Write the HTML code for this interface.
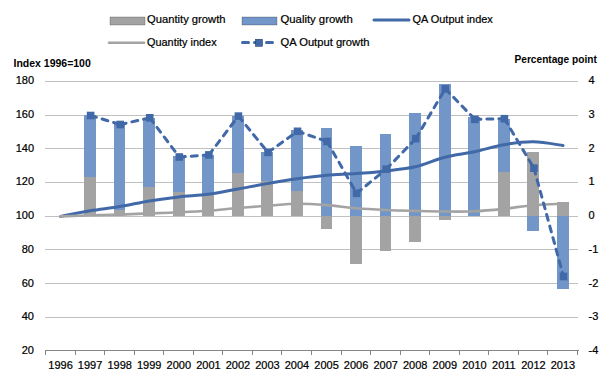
<!DOCTYPE html>
<html><head><meta charset="utf-8"><style>html,body{margin:0;padding:0;background:#fff;width:612px;height:380px;overflow:hidden}svg{display:block}</style></head>
<body><svg width="612" height="380" viewBox="0 0 612 380">
<rect width="612" height="380" fill="#fff"/>
<rect x="45" y="81" width="533" height="1" fill="#C0C0C0"/>
<rect x="45" y="115" width="533" height="1" fill="#C0C0C0"/>
<rect x="45" y="148" width="533" height="1" fill="#C0C0C0"/>
<rect x="45" y="182" width="533" height="1" fill="#C0C0C0"/>
<rect x="45" y="216" width="533" height="1" fill="#C0C0C0"/>
<rect x="45" y="249" width="533" height="1" fill="#C0C0C0"/>
<rect x="45" y="283" width="533" height="1" fill="#C0C0C0"/>
<rect x="45" y="317" width="533" height="1" fill="#C0C0C0"/>
<rect x="45" y="350" width="534" height="1" fill="#868686"/>
<rect x="45" y="350" width="1" height="5" fill="#868686"/>
<rect x="75" y="350" width="1" height="5" fill="#868686"/>
<rect x="104" y="350" width="1" height="5" fill="#868686"/>
<rect x="134" y="350" width="1" height="5" fill="#868686"/>
<rect x="163" y="350" width="1" height="5" fill="#868686"/>
<rect x="193" y="350" width="1" height="5" fill="#868686"/>
<rect x="222" y="350" width="1" height="5" fill="#868686"/>
<rect x="252" y="350" width="1" height="5" fill="#868686"/>
<rect x="281" y="350" width="1" height="5" fill="#868686"/>
<rect x="311" y="350" width="1" height="5" fill="#868686"/>
<rect x="341" y="350" width="1" height="5" fill="#868686"/>
<rect x="370" y="350" width="1" height="5" fill="#868686"/>
<rect x="400" y="350" width="1" height="5" fill="#868686"/>
<rect x="429" y="350" width="1" height="5" fill="#868686"/>
<rect x="459" y="350" width="1" height="5" fill="#868686"/>
<rect x="488" y="350" width="1" height="5" fill="#868686"/>
<rect x="518" y="350" width="1" height="5" fill="#868686"/>
<rect x="547" y="350" width="1" height="5" fill="#868686"/>
<rect x="577" y="350" width="1" height="5" fill="#868686"/>
<rect x="84" y="177" width="12" height="39" fill="#A3A3A3"/>
<rect x="84" y="115" width="12" height="62" fill="#7196C7"/>
<rect x="114" y="210" width="11" height="6" fill="#A3A3A3"/>
<rect x="114" y="124" width="11" height="86" fill="#7196C7"/>
<rect x="143" y="187" width="12" height="29" fill="#A3A3A3"/>
<rect x="143" y="118" width="12" height="69" fill="#7196C7"/>
<rect x="173" y="192" width="12" height="24" fill="#A3A3A3"/>
<rect x="173" y="156" width="12" height="36" fill="#7196C7"/>
<rect x="202" y="194" width="12" height="22" fill="#A3A3A3"/>
<rect x="202" y="155" width="12" height="39" fill="#7196C7"/>
<rect x="232" y="173" width="12" height="43" fill="#A3A3A3"/>
<rect x="232" y="116" width="12" height="57" fill="#7196C7"/>
<rect x="261" y="181" width="12" height="35" fill="#A3A3A3"/>
<rect x="261" y="152" width="12" height="29" fill="#7196C7"/>
<rect x="291" y="191" width="12" height="25" fill="#A3A3A3"/>
<rect x="291" y="130" width="12" height="61" fill="#7196C7"/>
<rect x="321" y="216" width="11" height="13" fill="#A3A3A3"/>
<rect x="321" y="128" width="11" height="88" fill="#7196C7"/>
<rect x="350" y="216" width="12" height="48" fill="#A3A3A3"/>
<rect x="350" y="146" width="12" height="70" fill="#7196C7"/>
<rect x="380" y="216" width="11" height="35" fill="#A3A3A3"/>
<rect x="380" y="134" width="11" height="82" fill="#7196C7"/>
<rect x="409" y="216" width="12" height="26" fill="#A3A3A3"/>
<rect x="409" y="113" width="12" height="103" fill="#7196C7"/>
<rect x="439" y="216" width="12" height="4" fill="#A3A3A3"/>
<rect x="439" y="84" width="12" height="132" fill="#7196C7"/>
<rect x="468" y="117" width="12" height="99" fill="#7196C7"/>
<rect x="498" y="172" width="12" height="44" fill="#A3A3A3"/>
<rect x="498" y="119" width="12" height="53" fill="#7196C7"/>
<rect x="527" y="152" width="12" height="64" fill="#A3A3A3"/>
<rect x="527" y="216" width="12" height="15" fill="#7196C7"/>
<rect x="557" y="202" width="12" height="14" fill="#A3A3A3"/>
<rect x="557" y="216" width="12" height="73" fill="#7196C7"/>
<path d="M60.58,216.40 C65.50,215.45 80.28,212.33 90.13,210.70 C99.99,209.07 109.84,208.23 119.69,206.60 C129.54,204.97 139.39,202.52 149.24,200.90 C159.10,199.28 168.95,198.00 178.80,196.90 C188.65,195.80 198.50,195.62 208.36,194.30 C218.21,192.98 228.06,190.78 237.91,189.00 C247.76,187.22 257.61,185.30 267.47,183.60 C277.32,181.90 287.17,180.18 297.02,178.80 C306.87,177.42 316.73,176.17 326.58,175.30 C336.43,174.43 346.28,174.33 356.13,173.60 C365.99,172.87 375.84,172.03 385.69,170.90 C395.54,169.77 405.39,169.08 415.24,166.80 C425.10,164.52 434.95,159.70 444.80,157.20 C454.65,154.70 464.50,153.88 474.36,151.80 C484.21,149.72 494.06,146.37 503.91,144.70 C513.76,143.03 523.61,141.67 533.47,141.80 C543.32,141.93 558.10,144.88 563.02,145.50" fill="none" stroke="#4169A8" stroke-width="3" stroke-linecap="round" stroke-linejoin="round"/>
<path d="M60.58,216.40 C65.50,216.22 80.28,215.60 90.13,215.30 C99.99,215.00 109.84,214.92 119.69,214.60 C129.54,214.28 139.39,213.78 149.24,213.40 C159.10,213.02 168.95,212.75 178.80,212.30 C188.65,211.85 198.50,211.42 208.36,210.70 C218.21,209.98 228.06,208.82 237.91,208.00 C247.76,207.18 257.61,206.52 267.47,205.80 C277.32,205.08 287.17,203.82 297.02,203.70 C306.87,203.58 316.73,204.33 326.58,205.10 C336.43,205.87 346.28,207.48 356.13,208.30 C365.99,209.12 375.84,209.57 385.69,210.00 C395.54,210.43 405.39,210.65 415.24,210.90 C425.10,211.15 434.95,211.43 444.80,211.50 C454.65,211.57 464.50,211.75 474.36,211.30 C484.21,210.85 494.06,209.82 503.91,208.80 C513.76,207.78 523.61,206.03 533.47,205.20 C543.32,204.37 558.10,204.03 563.02,203.80" fill="none" stroke="#A3A3A3" stroke-width="2.6" stroke-linecap="round" stroke-linejoin="round"/>
<path d="M90.63,115.50 L120.19,124.50" fill="none" stroke="#4169A8" stroke-width="3" stroke-dasharray="6 6" stroke-linecap="round"/>
<path d="M120.19,124.50 L149.74,117.80" fill="none" stroke="#4169A8" stroke-width="3" stroke-dasharray="6 6" stroke-linecap="round"/>
<path d="M149.74,117.80 L179.30,157.00" fill="none" stroke="#4169A8" stroke-width="3" stroke-dasharray="6 6" stroke-linecap="round"/>
<path d="M179.30,157.00 L208.86,154.90" fill="none" stroke="#4169A8" stroke-width="3" stroke-dasharray="6 6" stroke-linecap="round"/>
<path d="M208.86,154.90 L238.41,116.10" fill="none" stroke="#4169A8" stroke-width="3" stroke-dasharray="6 6" stroke-linecap="round"/>
<path d="M238.41,116.10 L267.97,152.40" fill="none" stroke="#4169A8" stroke-width="3" stroke-dasharray="6 6" stroke-linecap="round"/>
<path d="M267.97,152.40 L297.52,131.30" fill="none" stroke="#4169A8" stroke-width="3" stroke-dasharray="6 6" stroke-linecap="round"/>
<path d="M297.52,131.30 L327.08,141.50" fill="none" stroke="#4169A8" stroke-width="3" stroke-dasharray="6 6" stroke-linecap="round"/>
<path d="M327.08,141.50 L356.63,193.30" fill="none" stroke="#4169A8" stroke-width="3" stroke-dasharray="6 6" stroke-linecap="round"/>
<path d="M356.63,193.30 L386.19,169.20" fill="none" stroke="#4169A8" stroke-width="3" stroke-dasharray="6 6" stroke-linecap="round"/>
<path d="M386.19,169.20 L415.74,138.70" fill="none" stroke="#4169A8" stroke-width="3" stroke-dasharray="6 6" stroke-linecap="round"/>
<path d="M415.74,138.70 L445.30,88.80" fill="none" stroke="#4169A8" stroke-width="3" stroke-dasharray="6 6" stroke-linecap="round"/>
<path d="M445.30,88.80 L474.86,119.30" fill="none" stroke="#4169A8" stroke-width="3" stroke-dasharray="6 6" stroke-linecap="round"/>
<path d="M474.86,119.30 L504.41,118.70" fill="none" stroke="#4169A8" stroke-width="3" stroke-dasharray="6 6" stroke-linecap="round"/>
<path d="M504.41,118.70 L533.97,168.20" fill="none" stroke="#4169A8" stroke-width="3" stroke-dasharray="6 6" stroke-linecap="round"/>
<path d="M533.97,168.20 L563.52,276.50" fill="none" stroke="#4169A8" stroke-width="3" stroke-dasharray="6 6" stroke-linecap="round"/>
<rect x="86.83" y="111.70" width="7.6" height="7.6" fill="#4169A8"/>
<rect x="116.39" y="120.70" width="7.6" height="7.6" fill="#4169A8"/>
<rect x="145.94" y="114.00" width="7.6" height="7.6" fill="#4169A8"/>
<rect x="175.50" y="153.20" width="7.6" height="7.6" fill="#4169A8"/>
<rect x="205.06" y="151.10" width="7.6" height="7.6" fill="#4169A8"/>
<rect x="234.61" y="112.30" width="7.6" height="7.6" fill="#4169A8"/>
<rect x="264.17" y="148.60" width="7.6" height="7.6" fill="#4169A8"/>
<rect x="293.72" y="127.50" width="7.6" height="7.6" fill="#4169A8"/>
<rect x="323.28" y="137.70" width="7.6" height="7.6" fill="#4169A8"/>
<rect x="352.83" y="189.50" width="7.6" height="7.6" fill="#4169A8"/>
<rect x="382.39" y="165.40" width="7.6" height="7.6" fill="#4169A8"/>
<rect x="411.94" y="134.90" width="7.6" height="7.6" fill="#4169A8"/>
<rect x="441.50" y="85.00" width="7.6" height="7.6" fill="#4169A8"/>
<rect x="471.06" y="115.50" width="7.6" height="7.6" fill="#4169A8"/>
<rect x="500.61" y="114.90" width="7.6" height="7.6" fill="#4169A8"/>
<rect x="530.17" y="164.40" width="7.6" height="7.6" fill="#4169A8"/>
<rect x="559.72" y="272.70" width="7.6" height="7.6" fill="#4169A8"/>
<g font-family="'Liberation Sans', sans-serif" stroke="#000" stroke-width="0.22">
<text x="34" y="84.0" font-size="11" text-anchor="end" font-weight="normal" fill="#000000">180</text>
<text x="34" y="117.75" font-size="11" text-anchor="end" font-weight="normal" fill="#000000">160</text>
<text x="34" y="151.5" font-size="11" text-anchor="end" font-weight="normal" fill="#000000">140</text>
<text x="34" y="185.25" font-size="11" text-anchor="end" font-weight="normal" fill="#000000">120</text>
<text x="34" y="219.0" font-size="11" text-anchor="end" font-weight="normal" fill="#000000">100</text>
<text x="34" y="252.75" font-size="11" text-anchor="end" font-weight="normal" fill="#000000">80</text>
<text x="34" y="286.5" font-size="11" text-anchor="end" font-weight="normal" fill="#000000">60</text>
<text x="34" y="320.25" font-size="11" text-anchor="end" font-weight="normal" fill="#000000">40</text>
<text x="34" y="354.0" font-size="11" text-anchor="end" font-weight="normal" fill="#000000">20</text>
<text x="588.5" y="84.0" font-size="11" text-anchor="start" font-weight="normal" fill="#000000">4</text>
<text x="588.5" y="117.75" font-size="11" text-anchor="start" font-weight="normal" fill="#000000">3</text>
<text x="588.5" y="151.5" font-size="11" text-anchor="start" font-weight="normal" fill="#000000">2</text>
<text x="588.5" y="185.25" font-size="11" text-anchor="start" font-weight="normal" fill="#000000">1</text>
<text x="588.5" y="219.0" font-size="11" text-anchor="start" font-weight="normal" fill="#000000">0</text>
<text x="588.5" y="252.75" font-size="11" text-anchor="start" font-weight="normal" fill="#000000">-1</text>
<text x="588.5" y="286.5" font-size="11" text-anchor="start" font-weight="normal" fill="#000000">-2</text>
<text x="588.5" y="320.25" font-size="11" text-anchor="start" font-weight="normal" fill="#000000">-3</text>
<text x="588.5" y="354.0" font-size="11" text-anchor="start" font-weight="normal" fill="#000000">-4</text>
<text x="60.6" y="369" font-size="11" text-anchor="middle" font-weight="normal" fill="#000000">1996</text>
<text x="90.1" y="369" font-size="11" text-anchor="middle" font-weight="normal" fill="#000000">1997</text>
<text x="119.7" y="369" font-size="11" text-anchor="middle" font-weight="normal" fill="#000000">1998</text>
<text x="149.2" y="369" font-size="11" text-anchor="middle" font-weight="normal" fill="#000000">1999</text>
<text x="178.8" y="369" font-size="11" text-anchor="middle" font-weight="normal" fill="#000000">2000</text>
<text x="208.4" y="369" font-size="11" text-anchor="middle" font-weight="normal" fill="#000000">2001</text>
<text x="237.9" y="369" font-size="11" text-anchor="middle" font-weight="normal" fill="#000000">2002</text>
<text x="267.5" y="369" font-size="11" text-anchor="middle" font-weight="normal" fill="#000000">2003</text>
<text x="297.0" y="369" font-size="11" text-anchor="middle" font-weight="normal" fill="#000000">2004</text>
<text x="326.6" y="369" font-size="11" text-anchor="middle" font-weight="normal" fill="#000000">2005</text>
<text x="356.1" y="369" font-size="11" text-anchor="middle" font-weight="normal" fill="#000000">2006</text>
<text x="385.7" y="369" font-size="11" text-anchor="middle" font-weight="normal" fill="#000000">2007</text>
<text x="415.2" y="369" font-size="11" text-anchor="middle" font-weight="normal" fill="#000000">2008</text>
<text x="444.8" y="369" font-size="11" text-anchor="middle" font-weight="normal" fill="#000000">2009</text>
<text x="474.4" y="369" font-size="11" text-anchor="middle" font-weight="normal" fill="#000000">2010</text>
<text x="503.9" y="369" font-size="11" text-anchor="middle" font-weight="normal" fill="#000000">2011</text>
<text x="533.5" y="369" font-size="11" text-anchor="middle" font-weight="normal" fill="#000000">2012</text>
<text x="563.0" y="369" font-size="11" text-anchor="middle" font-weight="normal" fill="#000000">2013</text>
<text x="13.5" y="67" font-size="11" text-anchor="start" font-weight="bold" fill="#000000" stroke-width="0" textLength="77.3" lengthAdjust="spacingAndGlyphs">Index 1996=100</text>
<text x="514.5" y="63" font-size="11" text-anchor="start" font-weight="bold" fill="#000000" stroke-width="0" textLength="82.3" lengthAdjust="spacingAndGlyphs">Percentage point</text>
<rect x="110" y="17" width="35" height="8" fill="#A3A3A3"/>
<text x="147" y="23" font-size="11" text-anchor="start" font-weight="normal" fill="#000000" textLength="78.5" lengthAdjust="spacingAndGlyphs">Quantity growth</text>
<rect x="242" y="17" width="35" height="8" fill="#7196C7"/>
<text x="280.5" y="23" font-size="11" text-anchor="start" font-weight="normal" fill="#000000" textLength="72.3" lengthAdjust="spacingAndGlyphs">Quality growth</text>
<line x1="374" y1="20" x2="409" y2="20" stroke="#4169A8" stroke-width="3" stroke-linecap="round"/>
<text x="412.5" y="23" font-size="11" text-anchor="start" font-weight="normal" fill="#000000" textLength="80.3" lengthAdjust="spacingAndGlyphs">QA Output index</text>
<line x1="109" y1="42.8" x2="144" y2="42.8" stroke="#A3A3A3" stroke-width="2.6" stroke-linecap="round"/>
<text x="147" y="46" font-size="11" text-anchor="start" font-weight="normal" fill="#000000" textLength="69.6" lengthAdjust="spacingAndGlyphs">Quantity index</text>
<line x1="242.5" y1="42.5" x2="272.5" y2="42.5" stroke="#4169A8" stroke-width="3" stroke-dasharray="6 6" stroke-linecap="round"/>
<rect x="255.2" y="39.1" width="7.5" height="7.5" fill="#4169A8"/>
<text x="280.5" y="46" font-size="11" text-anchor="start" font-weight="normal" fill="#000000" textLength="89" lengthAdjust="spacingAndGlyphs">QA Output growth</text>
</g>
</svg></body></html>
